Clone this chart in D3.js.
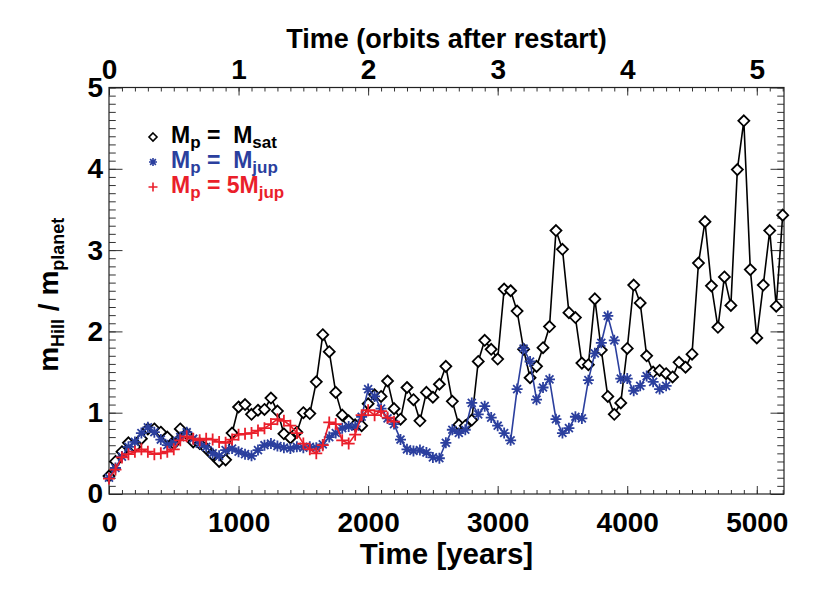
<!DOCTYPE html>
<html>
<head>
<meta charset="utf-8">
<script src="https://cdn.jsdelivr.net/npm/d3@7"></script>
<style>
    body { margin: 0; background: #fff; }
    text { font-family: "Liberation Sans", Arial, Helvetica, sans-serif; font-weight: bold; }
</style>
</head>
<body>
<svg id="chart"></svg>
<script>
// time samples (years after restart)
const years = [
    0, 50, 100, 150, 200, 250, 300, 350, 400, 450,
    500, 550, 600, 650, 700, 750, 800, 850, 900, 950,
    1000, 1050, 1100, 1150, 1200, 1250, 1300, 1350, 1400, 1450,
    1500, 1550, 1600, 1650, 1700, 1750, 1800, 1850, 1900, 1950,
    2000, 2050, 2100, 2150, 2200, 2250, 2300, 2350, 2400, 2450,
    2500, 2550, 2600, 2650, 2700, 2750, 2800, 2850, 2900, 2950,
    3000, 3050, 3100, 3150, 3200, 3250, 3300, 3350, 3400, 3450,
    3500, 3550, 3600, 3650, 3700, 3750, 3800, 3850, 3900, 3950,
    4000, 4050, 4100, 4150, 4200, 4250, 4300, 4350, 4400, 4450,
    4500, 4550, 4600, 4650, 4700, 4750, 4800, 4850, 4900, 4950,
    5000, 5050, 5100, 5150, 5200
]

// m_Hill / m_planet, M_p = M_sat
const sat_values = [
    0.22, 0.40, 0.52, 0.63, 0.58, 0.68, 0.80, 0.80, 0.76, 0.70,
    0.62, 0.80, 0.74, 0.64, 0.62, 0.56, 0.48, 0.40, 0.42, 0.75,
    1.07, 1.10, 0.98, 1.03, 1.04, 1.18, 1.02, 0.74, 0.69, 0.76,
    1.00, 0.99, 1.38, 1.96, 1.75, 1.25, 0.97, 0.90, 0.85, 0.84,
    1.11, 1.22, 1.20, 1.39, 1.05, 0.92, 1.31, 1.16, 0.90, 1.25,
    1.19, 1.35, 1.57, 1.14, 0.85, 0.84, 0.91, 1.63, 1.89, 1.78,
    1.66, 2.52, 2.50, 2.25, 1.78, 1.43, 1.57, 1.80, 2.06, 3.24,
    3.01, 2.23, 2.17, 1.61, 1.59, 2.40, 1.77, 1.20, 0.98, 1.12,
    1.79, 2.57, 2.35, 1.70, 1.50, 1.52, 1.48, 1.44, 1.62, 1.56,
    1.72, 2.84, 3.35, 2.56, 2.05, 2.67, 2.32, 3.99, 4.59, 2.76,
    1.92, 2.57, 3.24, 2.31, 3.43
]

// M_p = M_jup
const jup_values = [
    0.20, 0.32, 0.46, 0.58, 0.64, 0.75, 0.82, 0.76, 0.67, 0.60,
    0.63, 0.70, 0.76, 0.68, 0.62, 0.58, 0.50, 0.47, 0.54, 0.56,
    0.52, 0.49, 0.47, 0.54, 0.60, 0.62, 0.59, 0.57, 0.56, 0.58,
    0.57, 0.58, 0.57, 0.61, 0.70, 0.75, 0.81, 0.83, 0.83, 0.95,
    1.29, 1.20, 1.05, 0.93, 0.86, 0.67, 0.55, 0.53, 0.54, 0.51,
    0.45, 0.44, 0.63, 0.79, 0.75, 0.79, 1.12, 0.98, 1.08, 0.94,
    0.84, 0.75, 0.66, 1.29, 1.79, 1.63, 1.16, 1.31, 1.41, 0.92,
    0.75, 0.81, 0.95, 0.93, 1.40, 1.73, 1.86, 2.19, 1.89, 1.42,
    1.42, 1.27, 1.33, 1.45, 1.38, 1.29, 1.33
]

// M_p = 5 M_jup
const jup5_values = [
    0.19, 0.30, 0.45, 0.49, 0.52, 0.55, 0.52, 0.49, 0.50, 0.52,
    0.55, 0.66, 0.71, 0.68, 0.66, 0.68, 0.67, 0.64, 0.63, 0.67,
    0.73, 0.74, 0.75, 0.78, 0.81, 0.86, 0.92, 0.90, 0.84, 0.75,
    0.62, 0.55, 0.50, 0.60, 0.88, 0.86, 0.66, 0.62, 0.73, 0.97,
    1.03, 0.97, 1.02, 0.94, 0.89
]

const year_ticks = [0, 1000, 2000, 3000, 4000, 5000]
const orbit_ticks = [0, 1, 2, 3, 4, 5]
const y_ticks = [0, 1, 2, 3, 4, 5]

const width = 830
const height = 593
const plot_left = 109, plot_right = 784, plot_top = 87.5, plot_bottom = 494
const x_max = 5210
const years_per_orbit = 1000

const black = "#000000"
const blue = "#2b3f9e"
const red = "#ea1f2b"

const svg = d3.select("#chart")
    .attr("width", width)
    .attr("height", height)

svg.append("rect")
    .attr("width", width)
    .attr("height", height)
    .attr("fill", "#fff")

const x = d3.scaleLinear().domain([0, x_max]).range([plot_left, plot_right])
const x_orbit = d3.scaleLinear().domain([0, x_max / years_per_orbit]).range([plot_left, plot_right])
const y = d3.scaleLinear().domain([0, 5]).range([plot_bottom, plot_top])

// tick lengths like IDL: fraction of the other dimension
const x_major = 8, x_minor = 4
const y_major = 13.5, y_minor = 6.75

function styleAxis(g) {
    g.select(".domain").remove()
    g.selectAll(".tick line").attr("stroke", "#333").attr("stroke-width", 1)
    g.selectAll(".tick text").attr("fill", "#000").attr("font-size", 28)
        .attr("font-family", "'Liberation Sans', Arial, sans-serif").attr("font-weight", "bold")
}

// bottom axis
svg.append("g")
    .attr("transform", `translate(0,${plot_bottom})`)
    .call(d3.axisBottom(x).tickValues(d3.range(0, x_max, 100)).tickSize(-x_minor).tickFormat(""))
    .call(styleAxis)
svg.append("g")
    .attr("transform", `translate(0,${plot_bottom})`)
    .call(d3.axisBottom(x).tickValues(year_ticks).tickSize(-x_major).tickPadding(18).tickFormat(d3.format("d")))
    .call(styleAxis)

// top axis (orbits)
svg.append("g")
    .attr("transform", `translate(0,${plot_top})`)
    .call(d3.axisTop(x_orbit).tickValues(d3.range(0, x_max / years_per_orbit, 0.1)).tickSize(-x_minor).tickFormat(""))
    .call(styleAxis)
svg.append("g")
    .attr("transform", `translate(0,${plot_top})`)
    .call(d3.axisTop(x_orbit).tickValues(orbit_ticks).tickSize(-x_major).tickPadding(9).tickFormat(d3.format("d")))
    .call(styleAxis)

// left axis
svg.append("g")
    .attr("transform", `translate(${plot_left},0)`)
    .call(d3.axisLeft(y).tickValues(d3.range(0, 5.001, 0.1)).tickSize(-y_minor).tickFormat(""))
    .call(styleAxis)
svg.append("g")
    .attr("transform", `translate(${plot_left},0)`)
    .call(d3.axisLeft(y).tickValues(y_ticks).tickSize(-y_major).tickPadding(6).tickFormat(d3.format("d")))
    .call(styleAxis)

// right axis
svg.append("g")
    .attr("transform", `translate(${plot_right},0)`)
    .call(d3.axisRight(y).tickValues(d3.range(0, 5.001, 0.1)).tickSize(-y_minor).tickFormat(""))
    .call(styleAxis)
svg.append("g")
    .attr("transform", `translate(${plot_right},0)`)
    .call(d3.axisRight(y).tickValues(y_ticks).tickSize(-y_major).tickFormat(""))
    .call(styleAxis)

// frame
svg.append("rect")
    .attr("x", plot_left)
    .attr("y", plot_top)
    .attr("width", plot_right - plot_left)
    .attr("height", plot_bottom - plot_top)
    .attr("fill", "none")
    .attr("stroke", "#222")
    .attr("stroke-width", 1.2)

// titles
svg.append("text")
    .attr("x", (plot_left + plot_right) / 2)
    .attr("y", 48)
    .attr("text-anchor", "middle")
    .attr("font-size", 27)
    .text("Time (orbits after restart)")

svg.append("text")
    .attr("x", (plot_left + plot_right) / 2)
    .attr("y", 564)
    .attr("text-anchor", "middle")
    .attr("font-size", 29.5)
    .text("Time [years]")

const ytitle = svg.append("text")
    .attr("transform", `translate(58,${(plot_top + plot_bottom) / 2 + 4}) rotate(-90)`)
    .attr("text-anchor", "middle")
    .attr("font-size", 28)
    .style("white-space", "pre")
ytitle.append("tspan").text("m")
ytitle.append("tspan").attr("font-size", 18).attr("dy", 6).text("Hill")
ytitle.append("tspan").attr("dy", -6).text(" / m")
ytitle.append("tspan").attr("font-size", 18).attr("dy", 6).text("planet")

// marker shapes
function diamondPath(r) {
    return `M0,${-r}L${r},0L0,${r}L${-r},0Z`
}
function plusPath(r) {
    return `M${-r},0H${r}M0,${-r}V${r}`
}
function asteriskPath(r) {
    const d = r * 0.72
    return `M${-r},0H${r}M0,${-r}V${r}M${-d},${-d}L${d},${d}M${-d},${d}L${d},${-d}`
}

const line = d3.line()
    .x(d => x(d[0]))
    .y(d => y(d[1]))

function drawSeries(values, color, shape, marker_fill) {
    const pts = values.map((v, i) => [years[i], v])
    svg.append("path")
        .datum(pts)
        .attr("fill", "none")
        .attr("stroke", color)
        .attr("stroke-width", 1.6)
        .attr("d", line)
    svg.append("g")
        .selectAll("path")
        .data(pts)
        .enter()
        .append("path")
        .attr("transform", d => `translate(${x(d[0])},${y(d[1])})`)
        .attr("d", shape)
        .attr("fill", marker_fill)
        .attr("stroke", color)
        .attr("stroke-width", 1.8)
}

drawSeries(sat_values, black, diamondPath(5.5), "#fff")
drawSeries(jup_values, blue, asteriskPath(5.5), "none")
drawSeries(jup5_values, red, plusPath(6), "none")

// legend
const legend_rows = [
    { color: black, shape: diamondPath(4), fill: "#fff", sub1: "p", mid: " =  M", sub2: "sat" },
    { color: blue, shape: asteriskPath(4), fill: "none", sub1: "p", mid: " =  M", sub2: "jup" },
    { color: red, shape: plusPath(4.5), fill: "none", sub1: "p", mid: " = 5M", sub2: "jup" },
]

legend_rows.forEach(function(row, i) {
    const base = 143 + i * 25
    svg.append("path")
        .attr("transform", `translate(153,${base - 6})`)
        .attr("d", row.shape)
        .attr("fill", row.fill)
        .attr("stroke", row.color)
        .attr("stroke-width", 1.6)
    const t = svg.append("text")
        .attr("x", 171)
        .attr("y", base)
        .attr("fill", row.color)
        .attr("font-size", 23)
        .style("white-space", "pre")
    t.append("tspan").text("M")
    t.append("tspan").attr("font-size", 17).attr("dy", 5).text(row.sub1)
    t.append("tspan").attr("dy", -5).text(row.mid)
    t.append("tspan").attr("font-size", 17).attr("dy", 5).text(row.sub2)
})
</script>
</body>
</html>
